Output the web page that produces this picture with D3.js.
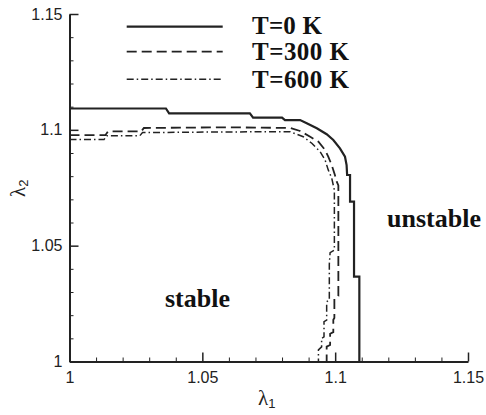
<!DOCTYPE html>
<html>
<head>
<meta charset="utf-8">
<title>Stability boundary</title>
<script src="https://cdn.jsdelivr.net/npm/d3@7"></script>
<style>
body { margin: 0; background: #fff; }
.axis text { font-family: "Liberation Sans", Arial, sans-serif; font-size: 16px; fill: #222; }
.axis path, .axis line { stroke: #222; }
.curve { fill: none; stroke: #222; }
.lbl { font-family: "Liberation Serif", "Times New Roman", serif; font-weight: bold; font-size: 26px; fill: #111; }
.leg { font-family: "Liberation Serif", "Times New Roman", serif; font-weight: bold; font-size: 25px; fill: #111; }
.sym { font-family: "Liberation Serif", serif; font-size: 21px; fill: #222; }
</style>
</head>
<body>
<div id="chart"></div>
<script>
// ticks
var xTicks = [1, 1.05, 1.1, 1.15];
var xTickLabels = ["1", "1.05", "1.1", "1.15"];
var yTicks = [1, 1.05, 1.1, 1.15];
var yTickLabels = ["1", "1.05", "1.1", "1.15"];
var minorTicks = [1.01, 1.02, 1.03, 1.04, 1.06, 1.07, 1.08, 1.09, 1.11, 1.12, 1.13, 1.14];

// legend
var seriesNames = ["T=0 K", "T=300 K", "T=600 K"];

// T = 0 K boundary
var lam1_T0 = [1.0, 1.0363, 1.0375, 1.0679, 1.0691, 1.0800, 1.0811, 1.0868, 1.0893, 1.0931, 1.0968, 1.0993,
               1.1018, 1.1037, 1.1043, 1.1045, 1.1056, 1.1056, 1.1071, 1.1071, 1.1091, 1.1091];
var lam2_T0 = [1.1092, 1.1092, 1.1071, 1.1071, 1.1053, 1.1053, 1.1042, 1.1042, 1.1028, 1.1007, 1.0981, 1.0956,
               1.0920, 1.0884, 1.0848, 1.0805, 1.0805, 1.0690, 1.0690, 1.0366, 1.0366, 1.0];

// T = 300 K boundary
var lam1_T300 = [1.0, 1.0135, 1.0145, 1.0270, 1.0280, 1.0600, 1.0830, 1.0868, 1.0906, 1.0937, 1.0962, 1.0974,
                 1.0987, 1.0999, 1.1006, 1.1012, 1.1012, 1.0997, 1.0997, 1.0993, 1.0993, 1.0981, 1.0981, 1.0968, 1.0968];
var lam2_T300 = [1.0977, 1.0977, 1.0993, 1.0993, 1.1008, 1.1011, 1.1008, 1.0995, 1.0970, 1.0949, 1.0913, 1.0884,
                 1.0848, 1.0805, 1.0776, 1.0760, 1.0283, 1.0270, 1.0188, 1.0180, 1.0127, 1.0120, 1.0071, 1.0064, 1.0];

// T = 600 K boundary
var lam1_T600 = [1.0, 1.0130, 1.0140, 1.0265, 1.0275, 1.0600, 1.0830, 1.0880, 1.0912, 1.0943, 1.0962, 1.0974,
                 1.0987, 1.0997, 1.0997, 1.0981, 1.0978, 1.0978, 1.0968, 1.0968, 1.0958, 1.0958, 1.0949, 1.0949,
                 1.0937, 1.0937];
var lam2_T600 = [1.0958, 1.0958, 1.0975, 1.0975, 1.0988, 1.0991, 1.0992, 1.0970, 1.0942, 1.0906, 1.0870, 1.0827,
                 1.0792, 1.0740, 1.0481, 1.0470, 1.0420, 1.0265, 1.0258, 1.0179, 1.0172, 1.0106, 1.0100, 1.0063,
                 1.0050, 1.0];

var W = 486, H = 415;

var svg = d3.select("#chart").append("svg")
    .attr("width", W)
    .attr("height", H);

var x = d3.scaleLinear().domain([1, 1.15]).range([69.5, 468]);
var y = d3.scaleLinear().domain([1, 1.15]).range([361.5, 14]);

// minor ticks first, then the main axes on top
svg.append("g")
    .attr("class", "axis")
    .attr("transform", "translate(0,361.5)")
    .call(d3.axisBottom(x).tickValues(minorTicks).tickSize(-4).tickFormat(""))
    .call(function(g) { g.select(".domain").remove(); });

svg.append("g")
    .attr("class", "axis")
    .attr("transform", "translate(69.5,0)")
    .call(d3.axisLeft(y).tickValues(minorTicks).tickSize(-4).tickFormat(""))
    .call(function(g) { g.select(".domain").remove(); });

svg.append("g")
    .attr("class", "axis")
    .attr("transform", "translate(0,361.5)")
    .call(d3.axisBottom(x).tickValues(xTicks).tickSizeInner(-9).tickSizeOuter(0).tickPadding(10)
        .tickFormat(function(d, i) { return xTickLabels[i]; }))
    .call(function(g) {
      g.select(".domain").attr("stroke-width", 2);
      g.selectAll(".tick line").attr("stroke-width", 1.5);
    });

svg.append("g")
    .attr("class", "axis")
    .attr("transform", "translate(69.5,0)")
    .call(d3.axisLeft(y).tickValues(yTicks).tickSizeInner(-9).tickSizeOuter(0).tickPadding(7)
        .tickFormat(function(d, i) { return yTickLabels[i]; }))
    .call(function(g) {
      g.select(".domain").attr("stroke-width", 2);
      g.selectAll(".tick line").attr("stroke-width", 1.5);
    });

var line = d3.line()
    .x(function(d) { return x(d[0]); })
    .y(function(d) { return y(d[1]); });

var series = [
  { l1: lam1_T0,   l2: lam2_T0,   dash: null,          w: 2.2 },
  { l1: lam1_T300, l2: lam2_T300, dash: "10,5",        w: 1.8 },
  { l1: lam1_T600, l2: lam2_T600, dash: "7,3,1.5,3",   w: 1.5 }
];

series.forEach(function(s) {
  svg.append("path")
      .datum(d3.zip(s.l1, s.l2))
      .attr("class", "curve")
      .attr("stroke-width", s.w)
      .attr("stroke-dasharray", s.dash)
      .attr("d", line);
});

// legend
var legY = [26.7, 51.7, 79.3];
var legBase = [34, 59.5, 87.5];
series.forEach(function(s, i) {
  svg.append("line")
      .attr("x1", 126.7).attr("x2", 222.7)
      .attr("y1", legY[i]).attr("y2", legY[i])
      .attr("stroke", "#222")
      .attr("stroke-width", s.w)
      .attr("stroke-dasharray", s.dash);
  svg.append("text")
      .attr("class", "leg")
      .attr("x", 252)
      .attr("y", legBase[i])
      .attr("textLength", [70, 97, 97][i])
      .text(seriesNames[i]);
});

// region labels
svg.append("text").attr("class", "lbl").attr("x", 165).attr("y", 307).text("stable");
svg.append("text").attr("class", "lbl").attr("x", 387).attr("y", 227).text("unstable");

// axis titles
var xt = svg.append("text").attr("class", "sym").attr("x", 258).attr("y", 405);
xt.append("tspan").text("λ");
xt.append("tspan").attr("font-size", "13px").attr("dy", 3)
    .style("font-family", "Liberation Sans, Arial, sans-serif").text("1");

var yt = svg.append("text").attr("class", "sym")
    .attr("transform", "translate(25,197) rotate(-90)");
yt.append("tspan").text("λ");
yt.append("tspan").attr("font-size", "13px").attr("dy", 3)
    .style("font-family", "Liberation Sans, Arial, sans-serif").text("2");
</script>
</body>
</html>
